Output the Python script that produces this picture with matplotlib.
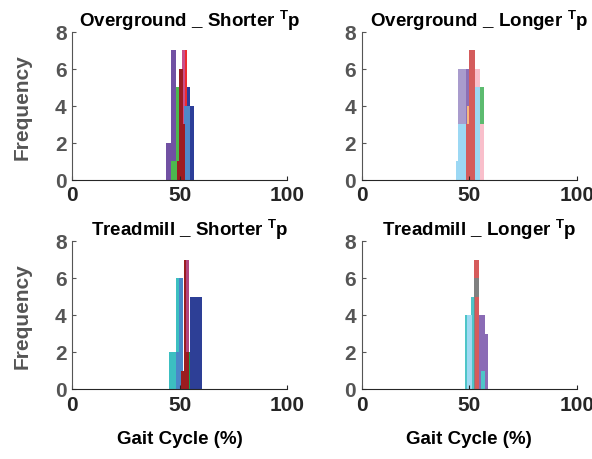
import matplotlib
matplotlib.use("Agg")
import matplotlib.pyplot as plt

# ---------------------------------------------------------------
# Histogram data: (colour, bin edges, counts) per series,
# listed in drawing order (later series sit on top).
# ---------------------------------------------------------------
og_short = [
    ("#7151a3", [43.7, 45.9, 48.2], [2, 7]),
    ("#4db84e", [46.1, 48.2, 50.4], [1, 5]),
    ("#c94f8a", [50.8, 52.6], [7]),
    ("#ee2a30", [52.3, 53.3], [7]),
    ("#2c3e99", [53.5, 54.6, 56.5], [5, 4]),
    ("#4e88c9", [52.0, 54.6], [4]),
    ("#9d1c22", [48.8, 49.8, 51.5, 52.6], [1, 6, 3]),
]

og_long = [
    ("#a99ccd", [45.0, 48.4], [6]),
    ("#8c6fb5", [48.5, 50.0], [6]),
    ("#f7b87c", [49.0, 50.0], [4]),
    ("#5cbb6f", [54.8, 56.8], [5]),
    ("#f9bfcb", [52.9, 54.8, 56.8], [6, 3]),
    ("#9cd8f4", [43.9, 45.0, 48.3], [1, 3]),
    ("#9cd8f4", [52.9, 54.8], [5]),
    ("#d45c5c", [48.3, 50.0, 52.8], [3, 7]),
]

tm_short = [
    ("#3cbfc1", [44.8, 48.2, 49.8], [2, 6]),
    ("#4a86c8", [48.2, 49.8, 51.5], [2, 6]),
    ("#b2467f", [53.0, 54.1], [7]),
    ("#2d3f96", [54.6, 57.5, 60.5], [5, 5]),
    ("#9b1c20", [50.7, 52.0, 53.0, 54.1], [1, 7, 2]),
    ("#1a9a50", [54.1, 54.8], [2]),
]

tm_long = [
    ("#4ec5c8", [48.2, 51.0, 52.2], [4, 5]),
    ("#a0daf3", [49.1, 51.3], [4]),
    ("#d65b5b", [52.2, 54.7], [7]),
    ("#808080", [52.2, 54.7], [6]),
    ("#d65b5b", [52.6, 54.7], [5]),
    ("#8a6bb5", [54.7, 57.2, 58.7], [4, 3]),
    ("#4ec5c8", [55.6, 57.2], [1]),
]

titles = [r"Overground _ Shorter $^{\mathbf{T}}$p",
          r"Overground _ Longer $^{\mathbf{T}}$p",
          r"Treadmill _ Shorter $^{\mathbf{T}}$p",
          r"Treadmill _ Longer $^{\mathbf{T}}$p"]
panels = [og_short, og_long, tm_short, tm_long]

xticks = [0, 50, 100]
yticks = [0, 2, 4, 6, 8]

plt.rcParams["font.family"] = ["Liberation Sans", "DejaVu Sans"]
plt.rcParams["font.weight"] = "bold"
plt.rcParams["mathtext.fontset"] = "custom"
plt.rcParams["mathtext.bf"] = "Liberation Sans:bold"
plt.rcParams["mathtext.rm"] = "Liberation Sans:bold"

fig = plt.figure(figsize=(5.92, 4.60), dpi=100)

W = 592.0
H = 460.0
rects = [
    (72.3, 33.0, 215.0, 147.5),
    (361.7, 33.0, 215.0, 147.5),
    (72.3, 242.0, 215.0, 148.0),
    (361.7, 242.0, 215.0, 148.0),
]

for i, (series, title, (x0, y0, w, h)) in enumerate(zip(panels, titles, rects)):
    ax = fig.add_axes([x0 / W, 1 - (y0 + h) / H, w / W, h / H])
    for color, edges, counts in series:
        lefts = edges[:-1]
        widths = [edges[k + 1] - edges[k] for k in range(len(counts))]
        ax.bar(lefts, counts, width=widths, align="edge", color=color,
               edgecolor="none", linewidth=0)
    ax.set_xlim(0, 100)
    ax.set_ylim(0, 8)
    ax.set_xticks(xticks)
    ax.set_yticks(yticks)
    ax.spines["top"].set_visible(False)
    ax.spines["right"].set_visible(False)
    ax.spines["left"].set_color("#555555")
    ax.spines["bottom"].set_color("#262626")
    ax.tick_params(direction="in", length=3, width=0.8, labelsize=15, pad=4)
    ax.tick_params(axis="y", colors="#555555")
    ax.tick_params(axis="x", colors="#262626")
    for lab in ax.get_xticklabels() + ax.get_yticklabels():
        lab.set_fontweight("bold")
    ax.text(0.545, 1.0, title, transform=ax.transAxes, ha="center",
            va="bottom", fontsize=13.5, fontweight="bold", color="black")
    if i % 2 == 0:
        ax.set_ylabel("Frequency", fontsize=15, fontweight="bold",
                      color="#555555", labelpad=17)
    if i >= 2:
        ax.set_xlabel("Gait Cycle (%)", fontsize=13.5, fontweight="bold",
                      color="black", labelpad=12)

fig.savefig("out.png", dpi=100)
